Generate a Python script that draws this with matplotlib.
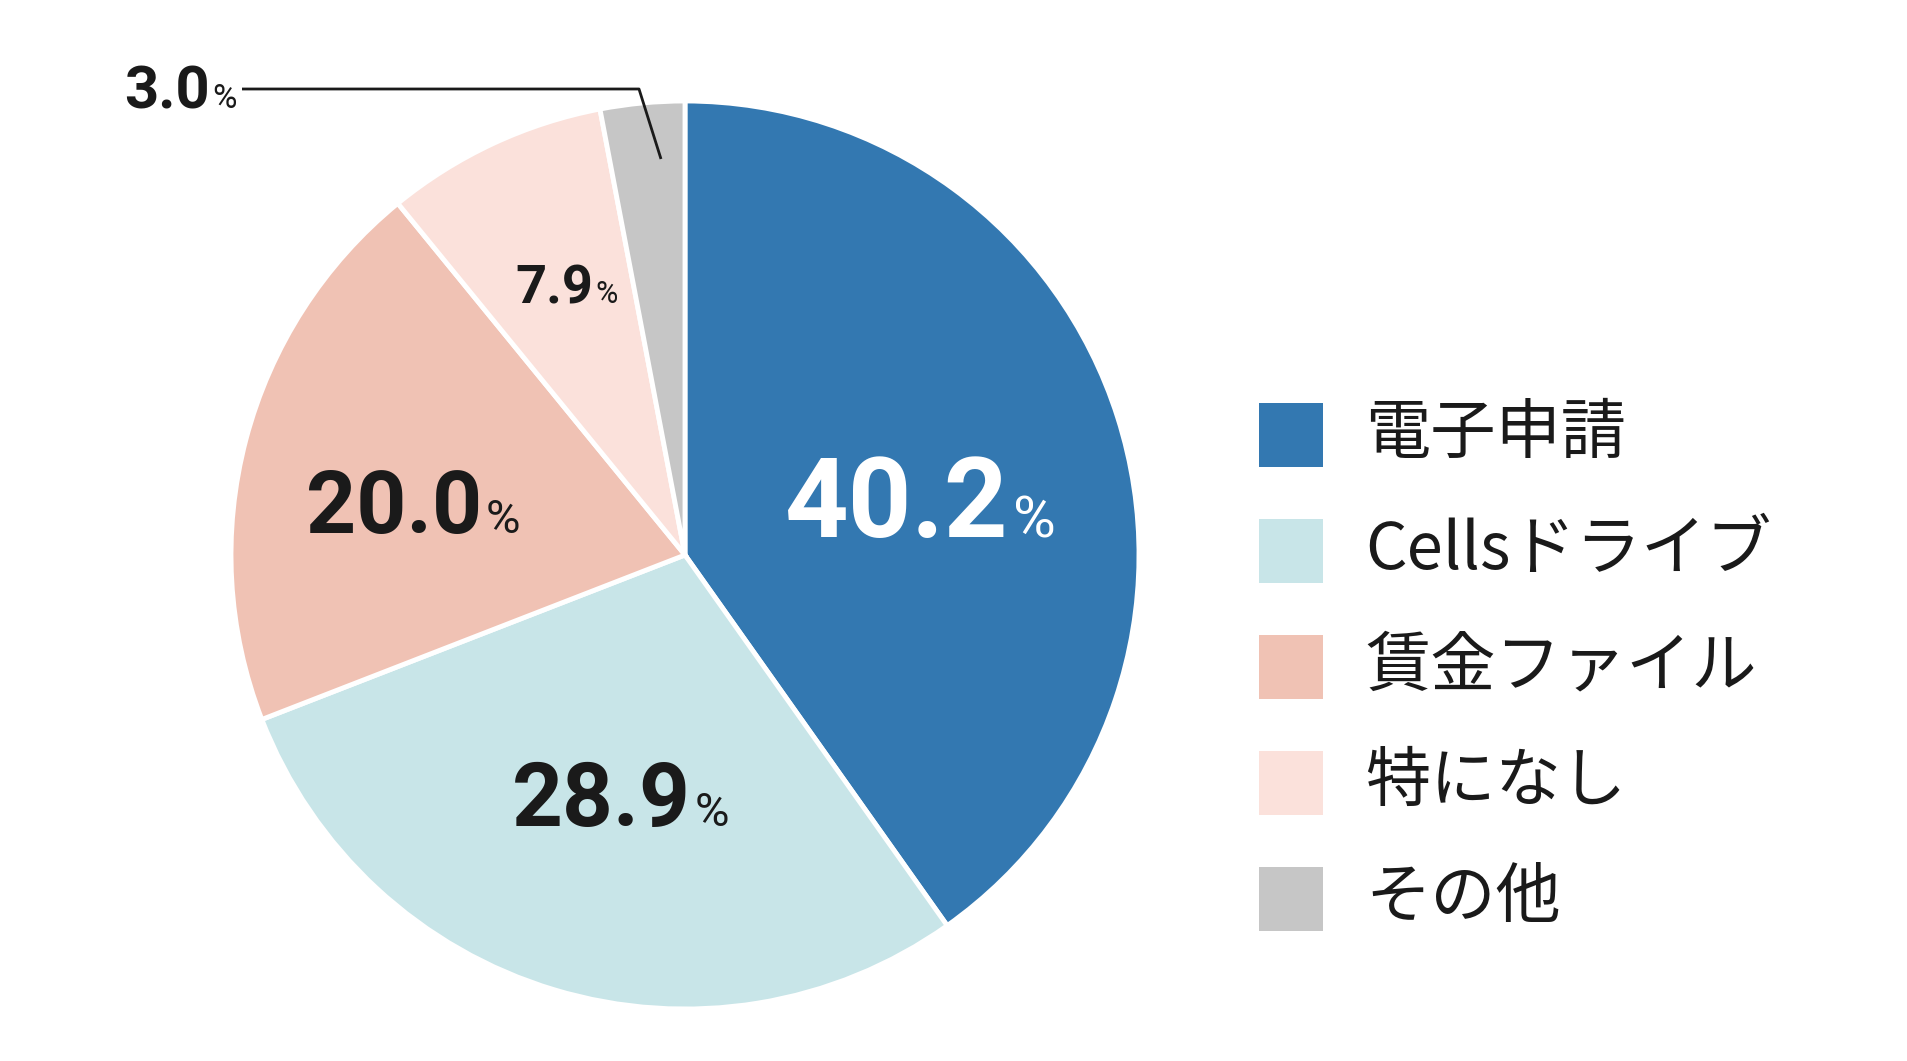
import matplotlib
matplotlib.use("Agg")
import matplotlib.pyplot as plt
from matplotlib.patches import Rectangle

plt.rcParams['font.family'] = ['Noto Sans CJK JP', 'DejaVu Sans']

# data
categories = ['電子申請', 'Cellsドライブ', '賃金ファイル', '特になし', 'その他']
values = [40.2, 28.9, 20.0, 7.9, 3.0]
colors = ['#3378b1', '#c8e5e8', '#f0c2b4', '#fbe1db', '#c6c6c6']

# label styling (number size, % size, text colour, offset from pie centre in px)
num_sizes = [80, 64, 63, 39, 43]
pct_sizes = [42, 34, 34, 22, 24]
label_colors = ['white', '#1a1a1a', '#1a1a1a', '#1a1a1a', '#1a1a1a']
label_offsets = [(326, 18), (8, -271), (-201, 22), (-91, 252), (-474, 447)]

W, H = 1908, 1061
cx, cy, R = 685, 506, 454

fig = plt.figure(figsize=(W / 100, H / 100), dpi=100)
ax = fig.add_axes([0, 0, 1, 1])

wedges, _ = ax.pie(values, colors=colors, startangle=90, counterclock=False,
                   center=(cx, cy), radius=R,
                   wedgeprops=dict(edgecolor='white', linewidth=3.5))
ax.set_xlim(0, W)
ax.set_ylim(0, H)
ax.set_aspect('equal')
ax.axis('off')

# percentage labels: bold number + smaller regular "%"
for v, ns, ps, c, (dx, dy) in zip(values, num_sizes, pct_sizes,
                                  label_colors, label_offsets):
    x, y = cx + dx, cy + dy
    gap = ns * 0.03
    ax.text(x - gap, y, f"{v:.1f}", fontsize=ns, fontweight='bold',
            family='Roboto', color=c, ha='right', va='baseline')
    ax.text(x + gap, y, "%", fontsize=ps, family='Roboto',
            color=c, ha='left', va='baseline')

# leader line for the small "その他" slice
ax.plot([cx - 443, cx - 46, cx - 24], [cy + 466, cy + 466, cy + 396],
        color='#1a1a1a', linewidth=2, solid_capstyle='butt')

# legend
sq = 64
lx = 1259
top = 403
pitch = 116
for i, (name, col) in enumerate(zip(categories, colors)):
    y0 = H - (top + i * pitch) - sq
    ax.add_patch(Rectangle((lx, y0), sq, sq, facecolor=col, edgecolor='none'))
    ax.text(1365, y0 + sq / 2, name, fontsize=47, color='#1a1a1a',
            ha='left', va='center')

fig.savefig('out.png', dpi=100)
